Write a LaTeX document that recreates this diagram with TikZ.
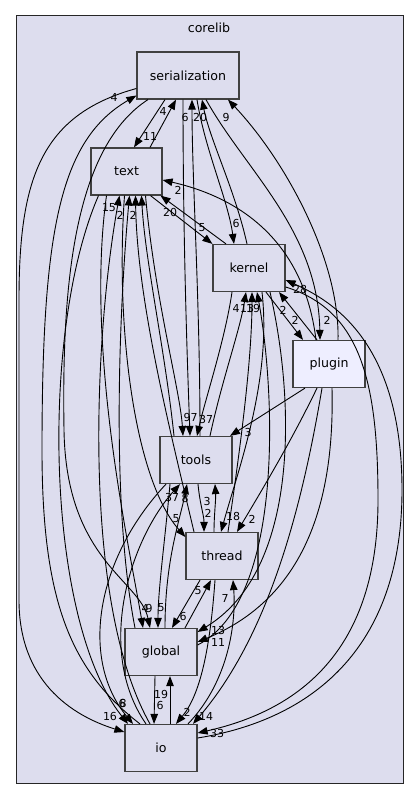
\documentclass[tikz,border=0pt]{standalone}
\usepackage{fontspec}
\setmainfont{DejaVu Sans}
\usetikzlibrary{arrows.meta}
\definecolor{clbg}{HTML}{DDDDEE}
\definecolor{plbg}{HTML}{EEEEFF}
\definecolor{bd}{HTML}{404040}
\begin{document}
\begin{tikzpicture}[x=1pt,y=-1pt,
  box/.style={draw=bd, line width=1.2pt, fill=clbg, minimum width=72pt, minimum height=47pt, inner sep=0pt, font=\fontsize{12.6}{15}\selectfont},
  dep/.style={draw=black, line width=0.9pt, -{Triangle[length=10pt,width=7.5pt]}},
  lab/.style={inner sep=0pt, font=\fontsize{11}{13}\selectfont}]
\useasboundingbox (0,0) rectangle (419,799);
\draw[fill=clbg, draw=black!85, line width=1pt] (16,16) rectangle (403,783);
\node[inner sep=0pt, font=\fontsize{12.6}{15}\selectfont] (title) at (209,28) {corelib};

% nodes
\node[box, minimum width=102pt] (ser) at (188,75.5) {serialization};
\node[box, minimum width=71pt] (text) at (126.5,171.5) {text};
\node[box] (kernel) at (249,268) {kernel};
\node[box, fill=plbg] (plugin) at (329,364) {plugin};
\node[box] (tools) at (196,460) {tools};
\node[box] (thread) at (222,556) {thread};
\node[box] (global) at (161,652) {global};
\node[box] (io) at (161,748) {io};

% edges
\draw[dep] ([xshift=-23pt]ser.south) -- ([xshift=7.5pt]text.north);
\draw[dep] ([xshift=23.5pt]text.north) -- ([xshift=-12pt]ser.south);
\draw[dep] ([xshift=4pt]tools.north) .. controls (200,300) and (192,180) .. ([xshift=4pt]ser.south);
\draw[dep] ([xshift=-2pt]kernel.north) .. controls (235,190) and (210,140) .. ([xshift=14pt]ser.south);
\draw[dep] ([xshift=9pt]plugin.north) .. controls (340,260) and (285,160) .. ([xshift=40pt]ser.south);
\draw[dep] ([xshift=18pt]ser.south) .. controls (245,170) and (318,230) .. ([xshift=-9pt]plugin.north);
\draw[dep] ([xshift=-13pt]plugin.north) .. controls (305,250) and (250,200) .. ([yshift=-8.5pt]text.east);
\draw[dep] ([xshift=9pt]ser.south) .. controls (205,150) and (228,200) .. ([xshift=-15pt]kernel.north);
\draw[dep] ([xshift=-23pt]kernel.north) -- ([xshift=34pt]text.south);
\draw[dep] ([xshift=24pt]text.south) -- (kernel.north west);
\draw[dep] ([xshift=-5pt]ser.south) .. controls (183,250) and (188,380) .. ([xshift=-6pt]tools.north);
\draw[dep] ([xshift=19pt]text.south) .. controls (155,300) and (180,390) .. ([xshift=-13pt]tools.north);
\draw[dep] ([xshift=-17pt]kernel.south) .. controls (225,340) and (205,400) .. ([xshift=1pt]tools.north);
\draw[dep] ([xshift=14pt]tools.north) .. controls (222,380) and (240,330) .. ([xshift=-3pt]kernel.south);
\draw[dep] ([xshift=-24pt]plugin.south) -- ([xshift=34pt]tools.north);
\draw[dep] ([xshift=-12pt]plugin.north) -- ([xshift=30pt]kernel.south);
\draw[dep] ([xshift=17pt]kernel.south) -- ([xshift=-26pt]plugin.north);
\draw[dep] ([yshift=10pt]io.east) .. controls (310,720) and (402,650) .. (402,490) .. controls (402,340) and (330,300) .. ([yshift=-12pt]kernel.east);
\draw[dep] ([yshift=-19pt]kernel.east) .. controls (360,310) and (378,380) .. (378,500) .. controls (378,650) and (300,710) .. ([yshift=15pt]io.east);
\draw[dep] ([xshift=13pt]kernel.south) .. controls (272,380) and (238,470) .. ([xshift=-1pt]thread.north);
\draw[dep] ([xshift=-12pt]plugin.south) .. controls (292,440) and (262,490) .. ([xshift=15pt]thread.north);
\draw[dep] ([xshift=2pt]tools.south) .. controls (200,505) and (204,515) .. ([xshift=-18pt]thread.north);
\draw[dep] ([xshift=-8pt]thread.north) .. controls (214,515) and (216,500) .. ([xshift=19pt]tools.south);
\draw[dep] ([xshift=-2pt]text.south) .. controls (115,330) and (135,480) .. ([yshift=19pt]thread.west);
\draw[dep] ([xshift=-11pt]io.north) .. controls (80,600) and (95,330) .. ([xshift=-7pt]text.south);
\draw[dep] ([xshift=-26pt]global.north) .. controls (110,500) and (120,300) .. ([xshift=3pt]text.south);
\draw[dep] ([xshift=-28pt]thread.north) .. controls (170,430) and (137,300) .. ([xshift=9pt]text.south);
\draw[dep] ([xshift=-22pt]tools.north) .. controls (165,350) and (145,260) .. ([xshift=15pt]text.south);
\draw[dep] ([xshift=-20pt]text.south) .. controls (85,350) and (130,550) .. ([xshift=-18pt]global.north);
\draw[dep] ([xshift=-40pt]ser.south) .. controls (70,150) and (62,300) .. (64,430) .. controls (66,560) and (140,580) .. ([xshift=-11pt]global.north);
\draw[dep] ([xshift=-26pt]tools.south) .. controls (165,540) and (158,590) .. ([xshift=-3pt]global.north);
\draw[dep] ([xshift=-22pt]thread.south) -- ([xshift=11pt]global.north);
\draw[dep] ([xshift=24pt]global.north) -- ([xshift=-11pt]thread.south);
\draw[dep] ([xshift=21pt]kernel.south) .. controls (295,400) and (300,570) .. ([yshift=20pt]global.east);
\draw[dep] ([xshift=3pt]plugin.south) .. controls (335,510) and (300,600) .. ([yshift=10pt]global.east);
\draw[dep] ([yshift=7pt]global.east) .. controls (285,600) and (275,390) .. ([xshift=8pt]kernel.south);
\draw[dep] ([xshift=6pt]thread.north) .. controls (240,450) and (252,360) .. ([xshift=3pt]kernel.south);
\draw[dep] ([xshift=-6pt]global.south) -- ([xshift=-7pt]io.north);
\draw[dep] ([xshift=9pt]io.north) -- ([xshift=9pt]global.south);
\draw[dep] ([xshift=-7pt]thread.south) .. controls (210,650) and (200,695) .. ([xshift=15pt]io.north);
\draw[dep] ([xshift=27pt]io.north) .. controls (230,680) and (236,620) .. ([xshift=11pt]thread.south);
\draw[dep] ([xshift=-7pt]plugin.south) .. controls (300,520) and (265,640) .. ([xshift=32pt]io.north);
\draw[dep] ([yshift=-13pt]ser.west) .. controls (40,115) and (19,180) .. (19,300) -- (19,600) .. controls (19,680) and (70,715) .. ([yshift=16pt]io.west);
\draw[dep] ([xshift=-21pt]io.north) .. controls (70,670) and (42,600) .. (42,450) .. controls (42,230) and (60,140) .. ([yshift=-20pt]ser.west);
\draw[dep] ([xshift=-28pt]text.south) .. controls (40,330) and (45,620) .. ([xshift=-33pt]io.north);
\draw[dep] ([xshift=-30pt]tools.south) .. controls (95,560) and (80,660) .. ([xshift=-28pt]io.north);
\draw[dep] ([xshift=-15pt]io.north) .. controls (95,650) and (130,540) .. ([xshift=-16pt]tools.south);
\draw[dep] ([xshift=4pt]global.north) .. controls (165,560) and (180,520) .. ([xshift=-9pt]tools.south);

% labels
\node[lab] (l1) at (114,97) {4};
\node[lab] (l2) at (163,111) {4};
\node[lab] (l3) at (150,136) {11};
\node[lab] (l4) at (185,117) {6};
\node[lab] (l5) at (200,117) {20};
\node[lab] (l6) at (226,117) {9};
\node[lab] (l7) at (178,190) {2};
\node[lab] (l8) at (170,212) {20};
\node[lab] (l9) at (202,228) {5};
\node[lab] (l10) at (236,223) {6};
\node[lab] (l11) at (109,208) {15};
\node[lab] (l12) at (120,215) {2};
\node[lab] (l13) at (133,215) {2};
\node[lab] (l15) at (236,308) {4};
\node[lab] (l16) at (247,308) {13};
\node[lab] (l17) at (253,308) {19};
\node[lab] (l18) at (283,310) {2};
\node[lab] (l19) at (295,320) {2};
\node[lab] (l20) at (300,289) {28};
\node[lab] (l21) at (327,320) {2};
\node[lab] (l22) at (187,417) {9};
\node[lab] (l23) at (194,417) {7};
\node[lab] (l24) at (206,419) {37};
\node[lab] (l25) at (248,432) {3};
\node[lab] (l26) at (172,497) {37};
\node[lab] (l27) at (185,498) {8};
\node[lab] (l28) at (207,501) {3};
\node[lab] (l29) at (208,513) {2};
\node[lab] (l30) at (176,519) {5};
\node[lab] (l31) at (233,516) {18};
\node[lab] (l32) at (252,519) {2};
\node[lab] (l33) at (198,591) {5};
\node[lab] (l34) at (225,598) {7};
\node[lab] (l35) at (145,608) {4};
\node[lab] (l36) at (149,608) {9};
\node[lab] (l37) at (161,608) {5};
\node[lab] (l38) at (183,616) {6};
\node[lab] (l39) at (218,630) {13};
\node[lab] (l40) at (218,642) {11};
\node[lab] (l41) at (161,694) {19};
\node[lab] (l42) at (160,705) {6};
\node[lab] (l43) at (122,703) {6};
\node[lab] (l44) at (123,703) {8};
\node[lab] (l45) at (110,716) {16};
\node[lab] (l46) at (187,712) {2};
\node[lab] (l47) at (206,716) {14};
\node[lab] (l48) at (217,733) {33};
\end{tikzpicture}
\end{document}
